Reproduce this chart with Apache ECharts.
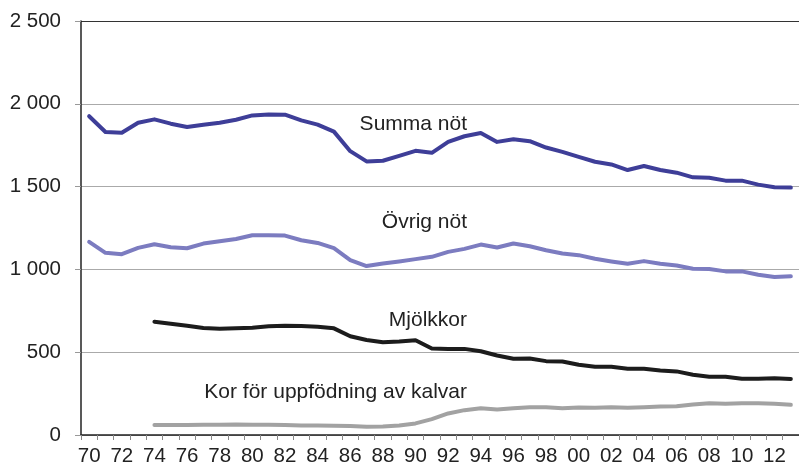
<!DOCTYPE html>
<html>
<head>
<meta charset="utf-8">
<script src="https://cdn.jsdelivr.net/npm/echarts@6/dist/echarts.min.js"></script>
<style>
  html, body { margin: 0; padding: 0; background: #fff; }
  #chart { width: 799px; height: 467px; }
</style>
</head>
<body>
<div id="chart"></div>
<script>
// år 1970–2013, etiketter som tvåsiffriga
const years = [];
for (let y = 1970; y <= 2013; y++) years.push(String(y).slice(2));

const summaNot = [1925, 1830, 1825, 1886, 1906, 1880, 1860, 1874, 1886, 1904,
  1930, 1936, 1934, 1900, 1874, 1832, 1714, 1652, 1656, 1686,
  1716, 1704, 1770, 1804, 1824, 1770, 1786, 1774, 1736, 1710,
  1680, 1650, 1634, 1600, 1624, 1600, 1584, 1556, 1554, 1536,
  1536, 1512, 1496, 1494];

const ovrigNot = [1166, 1100, 1092, 1130, 1152, 1134, 1128, 1156, 1170, 1184,
  1206, 1206, 1204, 1176, 1160, 1128, 1056, 1020, 1036, 1048,
  1062, 1076, 1106, 1124, 1150, 1132, 1156, 1140, 1116, 1096,
  1086, 1064, 1048, 1034, 1050, 1034, 1024, 1004, 1002, 988,
  988, 968, 954, 958];

const mjolkkor = [null, null, null, null, 684, 672, 660, 646, 642, 645,
  648, 656, 660, 658, 654, 644, 596, 574, 560, 564,
  572, 522, 520, 520, 506, 480, 460, 462, 446, 444,
  424, 412, 412, 400, 400, 390, 384, 364, 352, 352,
  340, 340, 342, 338];

const korKalvar = [null, null, null, null, 60, 60, 60, 62, 62, 64,
  62, 62, 60, 58, 58, 56, 54, 50, 52, 58,
  70, 96, 130, 150, 162, 154, 162, 168, 168, 162,
  166, 164, 168, 164, 168, 172, 174, 184, 192, 188,
  192, 192, 188, 182];

const yTicks = [0, 500, 1000, 1500, 2000, 2500];

const font = 'Arial, "Liberation Sans", Helvetica, sans-serif';

const chart = echarts.init(document.getElementById('chart'));

function lineSeries(name, data, color) {
  return {
    type: 'line',
    name: name,
    data: data,
    showSymbol: false,
    symbol: 'none',
    connectNulls: false,
    lineStyle: { color: color, width: 4, join: 'round', cap: 'round' },
    z: 3
  };
}

function seriesText(text, top) {
  return {
    type: 'text', right: 332, top: top,
    style: { text: text, fontSize: 21, fontFamily: font, fill: '#222' }
  };
}

chart.setOption({
  animation: false,
  backgroundColor: '#fff',
  grid: { left: 81, top: 21, width: 722, bottom: 30 },
  xAxis: {
    type: 'category',
    data: years,
    boundaryGap: true,
    axisLine: { lineStyle: { color: '#222', width: 1.5 } },
    axisTick: { show: true, interval: 0, length: 5, lineStyle: { color: '#888' } },
    axisLabel: {
      interval: 1,
      margin: 11,
      color: '#222',
      fontSize: 20.5,
      fontFamily: font
    }
  },
  yAxis: {
    type: 'value',
    min: yTicks[0],
    max: yTicks[yTicks.length - 1],
    interval: 500,
    axisLine: { show: true, lineStyle: { color: '#222', width: 1.5 } },
    axisTick: { show: true, length: 6, lineStyle: { color: '#999' } },
    axisLabel: {
      margin: 20,
      color: '#222',
      fontSize: 20.5,
      fontFamily: font,
      formatter: v => String(v).replace(/\B(?=(\d{3})+(?!\d))/g, ' ')
    },
    splitLine: {
      show: true,
      lineStyle: { color: ['#aaa', '#aaa', '#aaa', '#aaa', '#aaa', '#333'], width: 1 }
    }
  },
  series: [
    lineSeries('Summa nöt', summaNot, '#3e3e98'),
    lineSeries('Övrig nöt', ovrigNot, '#7c7cc0'),
    lineSeries('Mjölkkor', mjolkkor, '#1c1c1c'),
    lineSeries('Kor för uppfödning av kalvar', korKalvar, '#a2a2a2')
  ],
  graphic: [
    seriesText('Summa nöt', 114),
    seriesText('Övrig nöt', 212),
    seriesText('Mjölkkor', 310),
    seriesText('Kor för uppfödning av kalvar', 382)
  ]
});
</script>
</body>
</html>
